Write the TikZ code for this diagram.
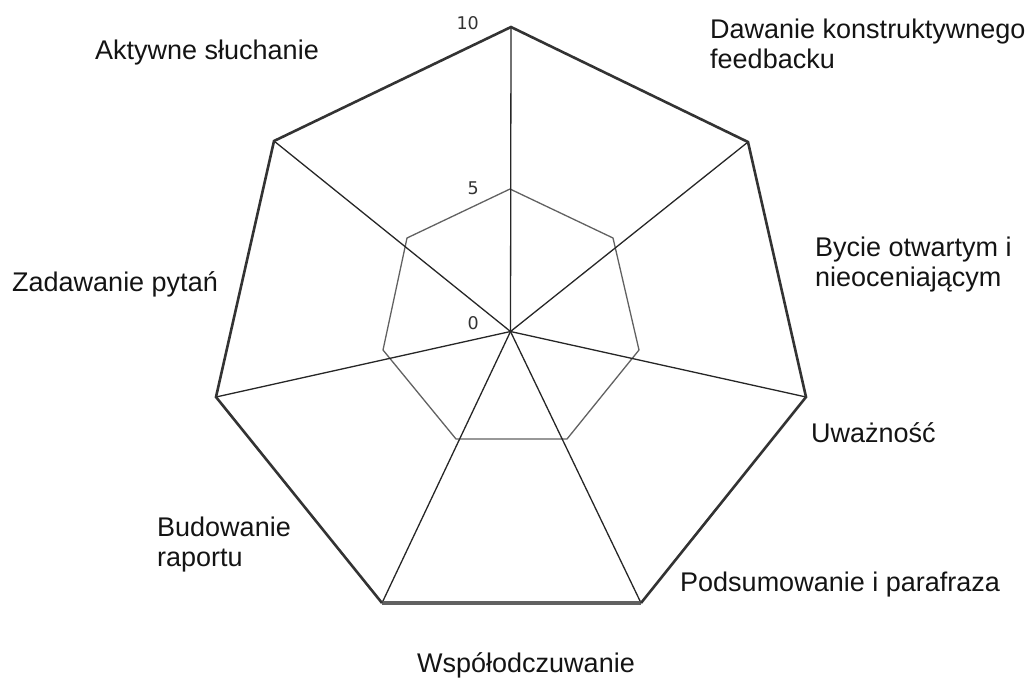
\documentclass[tikz,border=0pt]{standalone}
\usepackage{fontspec}
\setmainfont{Liberation Sans}
\newfontfamily\numfont{DejaVu Sans}
\begin{document}
\begin{tikzpicture}[x=1pt,y=-1pt,
  outer/.style={draw=black!80, line width=2.6pt, line join=miter},
  outerlow/.style={draw=black!62, line width=3.8pt},
  spoke/.style={draw=black!85, line width=1.3pt},
  inner/.style={draw=black!62, line width=1.3pt, line join=round},
  lbl/.style={anchor=base west, inner sep=0pt, align=left,
    font=\fontsize{27}{30}\selectfont, text=black!92},
  tick/.style={anchor=base east, inner sep=0pt,
    font=\numfont\fontsize{17.5}{19}\selectfont, text=black!80}]
\useasboundingbox (0,0) rectangle (1032,681);

% centre and outer ring (value 10)
\coordinate (c) at (510.5,331.5);
\coordinate (v0) at (511,27);
\coordinate (v1) at (748,142);
\coordinate (v2) at (806,397);
\coordinate (v3) at (641,603);
\coordinate (v4) at (382,603);
\coordinate (v5) at (216,397);
\coordinate (v6) at (274,141);

% ring for value 5
\coordinate (m0) at (510,189);
\coordinate (m1) at (613,238);
\coordinate (m2) at (639,350);
\coordinate (m3) at (567,439);
\coordinate (m4) at (456,439);
\coordinate (m5) at (383,350);
\coordinate (m6) at (407,238);

\draw[inner] (m0) -- (m1) -- (m2) -- (m3) -- (m4) -- (m5) -- (m6) -- cycle;

\foreach \i in {0,...,6} \draw[spoke] (c) -- (v\i);

\draw[outerlow] (v3) -- (v4);
\draw[outer] (v3) -- (v2) -- (v1) -- (v0) -- (v6) -- (v5) -- (v4);

% scale values
\node[tick] (t10) at (479,29) {10};
\node[tick] (t5) at (479,194) {5};
\node[tick] (t0) at (479,329) {0};

% axis labels (multi-line labels are anchored on their last line)
\node[lbl] (a0) at (95,59) {Aktywne słuchanie};
\node[lbl] (a1) at (710,68) {Dawanie konstruktywnego\\feedbacku};
\node[lbl] (a2) at (815,286) {Bycie otwartym i\\nieoceniającym};
\node[lbl] (a3) at (811,442) {Uważność};
\node[lbl] (a4) at (680,591) {Podsumowanie i parafraza};
\node[lbl] (a5) at (417,672) {Współodczuwanie};
\node[lbl] (a6) at (157,566) {Budowanie\\raportu};
\node[lbl] (a7) at (12,291) {Zadawanie pytań};
\end{tikzpicture}
\end{document}
